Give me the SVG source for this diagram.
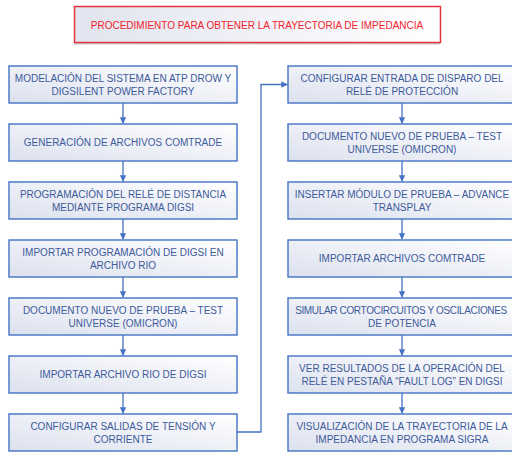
<svg xmlns="http://www.w3.org/2000/svg" width="512" height="454" viewBox="0 0 512 454">
<defs>
<linearGradient id="gBox" x1="0" y1="1" x2="1" y2="0">
<stop offset="0" stop-color="#dce1ee"/>
<stop offset="1" stop-color="#ffffff"/>
</linearGradient>
<linearGradient id="gTitle" x1="0" y1="0" x2="1" y2="0">
<stop offset="0" stop-color="#e2e4ef"/>
<stop offset="1" stop-color="#ffffff"/>
</linearGradient>
<marker id="arr" markerWidth="8" markerHeight="8" refX="6" refY="4" orient="auto" markerUnits="userSpaceOnUse">
<path d="M0,0.8 L6.5,4 L0,7.2 Z" fill="#4472c4"/>
</marker>
<style>
.box{fill:url(#gBox);stroke:#4472c4;stroke-width:1.4}
.t{font-family:"Liberation Sans",Arial,sans-serif;font-size:10px;fill:#3d5a9b;text-anchor:middle}
.title{font-family:"Liberation Sans",Arial,sans-serif;font-size:10px;fill:#f0222c;text-anchor:middle}
.c{fill:none;stroke:#4472c4;stroke-width:1.3;marker-end:url(#arr)}
</style>
</defs>
<rect width="512" height="454" fill="#ffffff"/>

<g id="title">
<rect x="74.5" y="6.5" width="366" height="37" fill="#c9c9d2" transform="translate(-0.5,1)"/>
<rect x="74.5" y="6.5" width="366" height="36" fill="url(#gTitle)" stroke="#e3343c" stroke-width="1.5"/>
<text class="title" x="257" y="29">PROCEDIMIENTO PARA OBTENER LA TRAYECTORIA DE IMPEDANCIA</text>
</g>

<g id="L1"><rect class="box" x="9" y="66" width="228" height="37"/><text class="t" x="123" y="81.5">MODELACIÓN DEL SISTEMA EN ATP DROW Y</text><text class="t" x="123" y="95">DIGSILENT POWER FACTORY</text></g>
<g id="L2"><rect class="box" x="9" y="124" width="228" height="37"/><text class="t" x="123" y="146">GENERACIÓN DE ARCHIVOS COMTRADE</text></g>
<g id="L3"><rect class="box" x="9" y="182" width="228" height="37"/><text class="t" x="123" y="197.5">PROGRAMACIÓN DEL RELÉ DE DISTANCIA</text><text class="t" x="123" y="211">MEDIANTE PROGRAMA DIGSI</text></g>
<g id="L4"><rect class="box" x="9" y="240" width="228" height="37"/><text class="t" x="123" y="255.5">IMPORTAR PROGRAMACIÓN DE DIGSI EN</text><text class="t" x="123" y="269">ARCHIVO RIO</text></g>
<g id="L5"><rect class="box" x="9" y="298" width="228" height="37"/><text class="t" x="123" y="313.5">DOCUMENTO NUEVO DE PRUEBA – TEST</text><text class="t" x="123" y="327">UNIVERSE (OMICRON)</text></g>
<g id="L6"><rect class="box" x="9" y="356" width="228" height="37"/><text class="t" x="123" y="378">IMPORTAR ARCHIVO RIO DE DIGSI</text></g>
<g id="L7"><rect class="box" x="9" y="414" width="228" height="37"/><text class="t" x="123" y="429.5">CONFIGURAR SALIDAS DE TENSIÓN Y</text><text class="t" x="123" y="443">CORRIENTE</text></g>

<g id="R1"><rect class="box" x="288" y="66" width="228" height="37"/><text class="t" x="402" y="81.5">CONFIGURAR ENTRADA DE DISPARO DEL</text><text class="t" x="402" y="95">RELÉ DE PROTECCIÓN</text></g>
<g id="R2"><rect class="box" x="288" y="124" width="228" height="37"/><text class="t" x="402" y="139.5">DOCUMENTO NUEVO DE PRUEBA – TEST</text><text class="t" x="402" y="153">UNIVERSE (OMICRON)</text></g>
<g id="R3"><rect class="box" x="288" y="182" width="228" height="37"/><text class="t" x="402" y="197.5">INSERTAR MÓDULO DE PRUEBA – ADVANCE</text><text class="t" x="402" y="211">TRANSPLAY</text></g>
<g id="R4"><rect class="box" x="288" y="240" width="228" height="37"/><text class="t" x="402" y="262">IMPORTAR ARCHIVOS COMTRADE</text></g>
<g id="R5"><rect class="box" x="288" y="298" width="228" height="37"/><text class="t" x="401" y="313.5" style="letter-spacing:-0.35px">SIMULAR CORTOCIRCUITOS Y OSCILACIONES</text><text class="t" x="402" y="327">DE POTENCIA</text></g>
<g id="R6"><rect class="box" x="288" y="356" width="228" height="37"/><text class="t" x="402" y="371.5">VER RESULTADOS DE LA OPERACIÓN DEL</text><text class="t" x="402" y="385">RELÉ EN PESTAÑA “FAULT LOG” EN DIGSI</text></g>
<g id="R7"><rect class="box" x="288" y="414" width="228" height="37"/><text class="t" x="402" y="429.5">VISUALIZACIÓN DE LA TRAYECTORIA DE LA</text><text class="t" x="402" y="443">IMPEDANCIA EN PROGRAMA SIGRA</text></g>

<g id="connectors">
<path class="c" d="M123,103 V123.3"/>
<path class="c" d="M123,161 V181.3"/>
<path class="c" d="M123,219 V239.3"/>
<path class="c" d="M123,277 V297.3"/>
<path class="c" d="M123,335 V355.3"/>
<path class="c" d="M123,393 V413.3"/>
<path class="c" d="M402,103 V123.3"/>
<path class="c" d="M402,161 V181.3"/>
<path class="c" d="M402,219 V239.3"/>
<path class="c" d="M402,277 V297.3"/>
<path class="c" d="M402,335 V355.3"/>
<path class="c" d="M402,393 V413.3"/>
<path class="c" d="M237,432 H261 V84.5 H287.3"/>
</g>
</svg>
